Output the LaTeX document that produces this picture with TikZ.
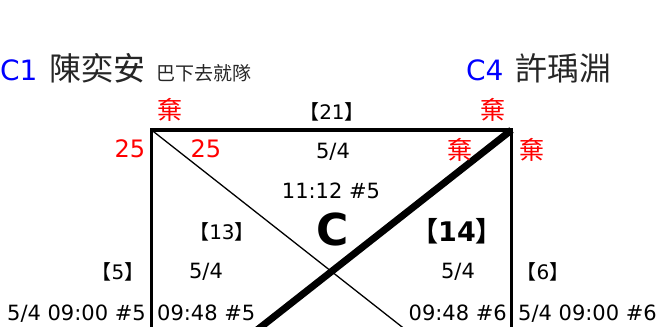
\documentclass[tikz,border=0pt]{standalone}
\usepackage{fontspec}
\setmainfont{DejaVu Sans}
\newfontfamily\cjk{Noto Sans CJK TC}
\usetikzlibrary{positioning}
\tikzstyle{lbl}=[inner sep=0pt, font=\fontsize{21}{21}\selectfont]
\tikzstyle{qi}=[inner sep=0pt, text=red, font=\cjk\fontsize{25}{25}\selectfont]
\tikzstyle{score}=[inner sep=0pt, text=red, font=\fontsize{24}{24}\selectfont]
\tikzstyle{seed}=[inner sep=0pt, text=blue, font=\fontsize{28}{28}\selectfont]
\tikzstyle{who}=[inner sep=0pt, text=black!85, font=\cjk\fontsize{32}{32}\selectfont]
\tikzstyle{team}=[inner sep=0pt, text=black!85, font=\cjk\fontsize{19}{19}\selectfont]
\tikzstyle{gno}=[inner sep=0pt, font=\fontsize{20}{20}\selectfont]
\newcommand{\gnum}[1]{{\cjk 【}#1{\cjk 】}}

\begin{document}
\begin{tikzpicture}[x=1pt,y=-1pt]
\useasboundingbox (0,0) rectangle (657,327);
\clip (0,0) rectangle (657,327);

\coordinate (tl) at (151.5,130);
\coordinate (tr) at (511.5,130);
\coordinate (bl) at (151.5,413);
\coordinate (br) at (511.5,413);

\draw[line width=3.5pt] (bl) -- (tl) -- (tr) -- (br);
\draw[line width=1.3pt] (tl) -- (br);
\draw[line width=7pt] (tr) -- (bl);

% players
\node[seed,anchor=base west] (c1) at (0,80) {C1};
\node[who,base right=12pt of c1] (p1) {陳奕安};
\node[team,base right=10pt of p1] (t1) {巴下去就隊};
\node[seed,anchor=base west] (c4) at (466,80) {C4};
\node[who,base right=12pt of c4] (p4) {許瑀淵};

% match 21
\node[qi] (q1) at (170,110) {棄};
\node[qi] (q4) at (493,110) {棄};
\node[gno] (g21) at (332,112) {\gnum{21}};
\node[score] (s1) at (130,149) {25};
\node[score] (s1b) at (206,149) {25};
\node[lbl] (d21) at (333,152) {5/4};
\node[qi] (q4b) at (460,150) {棄};
\node[qi] (q4c) at (532,150) {棄};
\node[lbl] (t21) at (331,191) {11:12 \#5};
\node[font=\bfseries\fontsize{44}{44}\selectfont,inner sep=0pt] (crt) at (333,229) {C};

% matches 13, 14
\node[gno] (g13) at (222,232) {\gnum{13}};
\node[gno,font=\bfseries\fontsize{27}{27}\selectfont] (g14) at (457,231) {\gnum{14}};
\node[lbl] (d13) at (206,272) {5/4};
\node[lbl] (d14) at (458,272) {5/4};
\node[lbl,anchor=base west] (t13) at (157,320) {09:48 \#5};
\node[lbl,anchor=base east] (t14) at (507,320) {09:48 \#6};

% matches 5, 6
\node[gno] (g5) at (118,272) {\gnum{5}};
\node[gno] (g6) at (543,272) {\gnum{6}};
\node[lbl,anchor=base east] (t5) at (146,320) {5/4 09:00 \#5};
\node[lbl,anchor=base west] (t6) at (518,320) {5/4 09:00 \#6};
\end{tikzpicture}
\end{document}
